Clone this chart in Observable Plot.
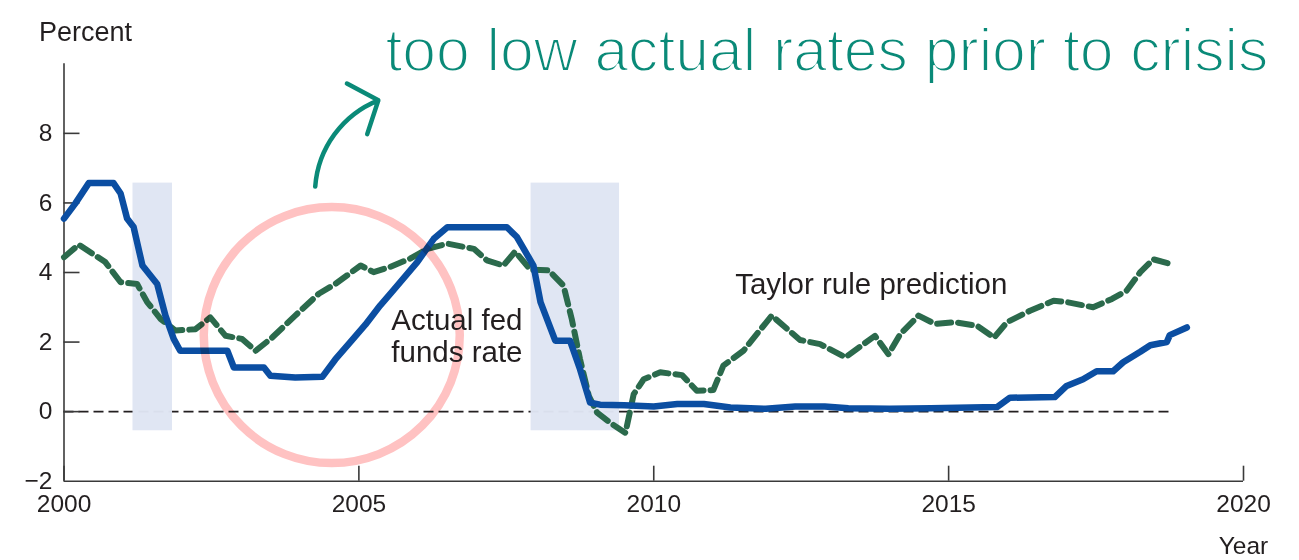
<!DOCTYPE html>
<html><head><meta charset="utf-8">
<script src="https://cdn.jsdelivr.net/npm/d3@7"></script>
<script src="https://cdn.jsdelivr.net/npm/@observablehq/plot@0.6"></script>
<style>
html,body{margin:0;padding:0;background:#fff;}
#chart{width:1299px;height:560px;overflow:hidden;}
</style>
</head><body><div id="chart"></div>
<script>
// ---- data ----
const fedYears = [2000.0,2000.19,2000.42,2000.84,2000.96,2001.07,2001.18,2001.33,2001.58,2001.72,2001.86,2001.97,2002.77,2002.88,2003.39,2003.5,2003.92,2004.38,2004.6,2004.88,2005.11,2005.36,2005.59,2005.99,2006.27,2006.5,2007.51,2007.68,2007.96,2008.08,2008.33,2008.58,2008.75,2008.92,2009.09,2009.5,2010.0,2010.4,2010.85,2011.3,2011.9,2012.4,2012.9,2013.3,2014.0,2014.7,2015.82,2016.04,2016.8,2017.0,2017.28,2017.51,2017.79,2017.96,2018.25,2018.42,2018.7,2018.75,2019.04];
const fedRates = [5.55,5.98,6.57,6.57,6.27,5.55,5.31,4.2,3.67,2.76,2.09,1.75,1.75,1.27,1.27,1.03,0.98,1.0,1.5,2.05,2.5,3.05,3.5,4.3,4.97,5.3,5.3,5.02,4.2,3.15,2.04,2.04,1.22,0.26,0.2,0.18,0.15,0.22,0.22,0.12,0.08,0.15,0.15,0.1,0.08,0.1,0.13,0.4,0.42,0.74,0.93,1.16,1.16,1.42,1.72,1.91,2.0,2.2,2.42];
const taylorYears = [2000.0,2000.25,2000.7,2000.96,2001.24,2001.41,2001.64,2001.89,2002.23,2002.48,2002.74,2003.02,2003.25,2003.53,2003.92,2004.32,2004.6,2005.03,2005.25,2005.53,2005.87,2006.16,2006.5,2006.95,2007.17,2007.45,2007.65,2007.91,2008.22,2008.47,2008.61,2008.75,2008.9,2009.04,2009.26,2009.52,2009.66,2009.83,2010.11,2010.48,2010.73,2011.01,2011.18,2011.52,2012.0,2012.48,2012.82,2013.25,2013.75,2013.98,2014.18,2014.49,2014.77,2015.1,2015.48,2015.77,2015.99,2016.38,2016.78,2017.0,2017.45,2017.77,2018.02,2018.25,2018.47,2018.75];
const taylorRates = [4.44,4.8,4.3,3.72,3.67,3.15,2.66,2.33,2.37,2.71,2.18,2.09,1.75,2.13,2.76,3.39,3.67,4.2,4.01,4.16,4.4,4.68,4.83,4.68,4.35,4.2,4.6,4.08,4.06,3.62,2.66,1.51,0.45,-0.03,-0.32,-0.61,0.5,0.93,1.13,1.05,0.6,0.62,1.32,1.75,2.76,2.06,1.94,1.56,2.18,1.65,2.23,2.76,2.52,2.57,2.47,2.13,2.57,2.9,3.19,3.15,3.0,3.24,3.48,4.01,4.38,4.25];
const recessionStart = [2001.17, 2007.92];
const recessionEnd = [2001.84, 2009.42];
const shadeBottom = -0.55, shadeTop = 6.57;
const zeroLineEnd = 2018.75;
const yTicks = [-2, 0, 2, 4, 6, 8];
const yInnerTicks = [0, 2, 4, 6, 8];
const xTicks = [2000, 2005, 2010, 2015, 2020];
const seriesLabels = ["Actual fed\nfunds rate", "Taylor rule prediction"];
const seriesLabelX = [2005.55, 2011.38];
const seriesLabelY = [2.18, 3.67];
const yUnitLabel = "Percent";
const xUnitLabel = "Year";
const noteText = "too low actual rates prior to crisis";
const noteX = 2005.45, noteY = 9.8;
const circleX = 2004.54, circleY = 2.2;
const arrowFrom = [2004.26, 6.47], arrowTo = [2005.33, 8.95];

// ---- build tables ----
const fed = fedYears.map((x, i) => ({x, y: fedRates[i]}));
const taylor = taylorYears.map((x, i) => ({x, y: taylorRates[i]}));
const recessions = recessionStart.map((s, i) => ({s, e: recessionEnd[i]}));
const labels = seriesLabels.map((t, i) => ({t, x: seriesLabelX[i], y: seriesLabelY[i]}));
const fmt = d => d < 0 ? "\u2212" + (-d) : String(d);

const ink = "#231f20";
const teal = "#0a8a78";
const chart = Plot.plot({
  width: 1299, height: 560,
  marginLeft: 63.5, marginRight: 56, marginTop: 63.3, marginBottom: 79.3,
  x: {domain: [2000, 2020], axis: null},
  y: {domain: [-2, 10], axis: null},
  style: {fontFamily: "'Liberation Sans', Arial, sans-serif", background: "#fff", color: ink},
  marks: [
    Plot.ruleY([0], {x1: 2000, x2: zeroLineEnd, stroke: ink, strokeWidth: 1.6, strokeDasharray: "10,5"}),
    Plot.rect(recessions, {x1: "s", x2: "e", y1: shadeBottom, y2: shadeTop, fill: "#dfe5f3", fillOpacity: 0.97}),
    Plot.ruleX([2000], {stroke: "#3a3a3a", strokeWidth: 1.6}),
    Plot.ruleY([-2], {stroke: "#3a3a3a", strokeWidth: 1.6}),
    Plot.axisY(yInnerTicks, {tickSize: -16, tickFormat: () => "", stroke: "#3a3a3a", strokeWidth: 1.6, label: null}),
    Plot.axisY(yTicks, {tickSize: 0, tickPadding: 11.5, tickFormat: fmt, fontSize: 24.5, fill: ink, label: null}),
    Plot.axisX(xTicks, {tickSize: -15, tickPadding: 28, fontSize: 24.5, fill: ink, stroke: "#3a3a3a", strokeWidth: 1.6, tickFormat: d => String(d), label: null}),
    Plot.line(taylor, {x: "x", y: "y", stroke: "#2b6a4c", strokeWidth: 6, strokeDasharray: "14,7", strokeLinejoin: "round"}),
    Plot.line(fed, {x: "x", y: "y", stroke: "#0b4ea2", strokeWidth: 6.5, strokeLinejoin: "round", strokeLinecap: "round"}),
    Plot.dot([{x: circleX, y: circleY}], {x: "x", y: "y", r: 128, fill: "none", stroke: "#ffc2c2", strokeWidth: 8.5, mixBlendMode: "multiply"}),
    Plot.text(labels, {x: "x", y: "y", text: "t", textAnchor: "start", lineAnchor: "middle", fontSize: 29.5, lineHeight: 1.07, fill: ink}),
    Plot.text([yUnitLabel], {frameAnchor: "top-left", textAnchor: "start", lineAnchor: "top", dx: -25, dy: -41.6, fontSize: 27, fill: ink}),
    Plot.text([{t: xUnitLabel, x: 2020}], {x: "x", text: "t", frameAnchor: "bottom", lineAnchor: "top", dy: 55, fontSize: 24.5, fill: ink}),
    Plot.arrow([{x1: arrowFrom[0], y1: arrowFrom[1], x2: arrowTo[0], y2: arrowTo[1]}], {x1: "x1", y1: "y1", x2: "x2", y2: "y2", bend: 32, stroke: teal, strokeWidth: 4.5, headLength: 12, headAngle: 100, strokeLinecap: "round"}),
    Plot.text([{t: noteText, x: noteX, y: noteY}], {x: "x", y: "y", text: "t", textAnchor: "start", lineAnchor: "bottom", fontSize: 62, fill: teal, stroke: "#fff", strokeWidth: 2, paintOrder: "normal"})
  ]
});
document.getElementById("chart").appendChild(chart);
d3.select(chart).selectAll("text").filter(function(){ return this.textContent === noteText; })
  .attr("textLength", 883).attr("lengthAdjust", "spacingAndGlyphs");
</script></body></html>
